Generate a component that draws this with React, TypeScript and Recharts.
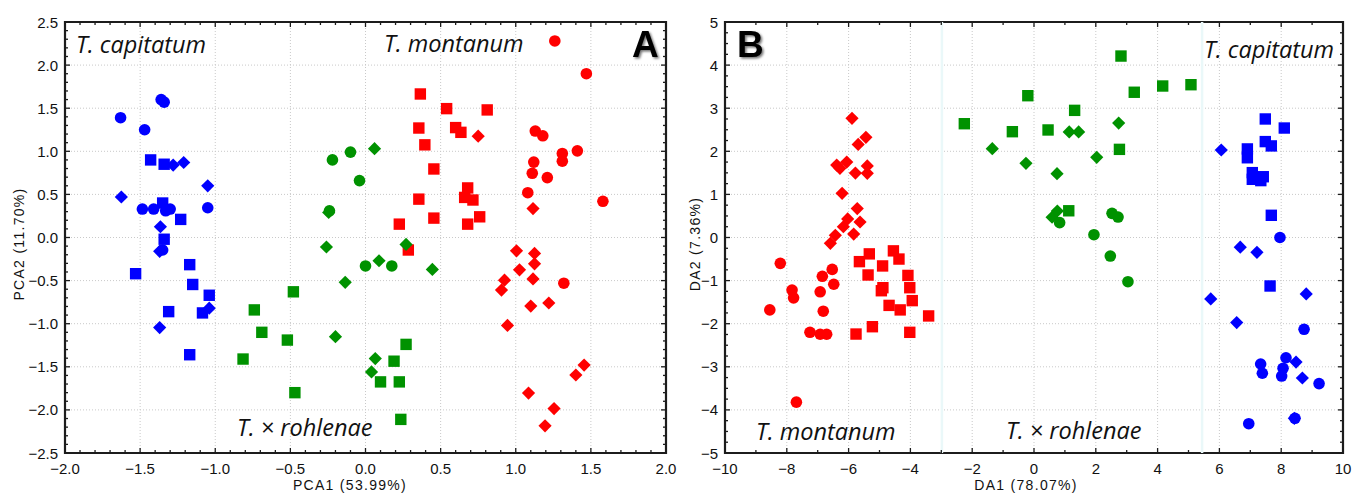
import React from 'react';
import {
  ScatterChart,
  Scatter,
  XAxis,
  YAxis,
  CartesianGrid,
  ReferenceArea,
  ReferenceLine,
} from 'recharts';

type Pt = [number, number];

// ---------- Panel A (PCA) ----------
const redCirclesA: Pt[] = [
  [1.26, 2.28], [1.47, 1.9], [1.13, 1.235], [1.18, 1.18], [1.31, 0.975], [1.41, 1.005],
  [1.12, 0.875], [1.31, 0.885], [1.11, 0.745], [1.21, 0.695], [1.08, 0.52], [1.58, 0.42],
  [1.32, -0.53],
];
const redSquaresA: Pt[] = [
  [0.365, 1.665], [0.54, 1.495], [0.81, 1.48], [0.355, 1.27], [0.6, 1.275], [0.635, 1.22],
  [0.395, 1.075], [0.455, 0.795], [0.68, 0.575], [0.66, 0.465], [0.715, 0.435], [0.355, 0.445],
  [0.455, 0.225], [0.76, 0.24], [0.225, 0.155], [0.68, 0.155], [0.285, -0.145],
];
const redDiamondsA: Pt[] = [
  [0.75, 1.175], [1.115, 0.335], [1.005, -0.155], [1.125, -0.185], [1.125, -0.305], [1.025, -0.375],
  [0.925, -0.495], [1.115, -0.48], [0.905, -0.61], [1.1, -0.795], [1.22, -0.76], [0.945, -1.02],
  [1.455, -1.48], [1.4, -1.595], [1.085, -1.805], [1.255, -1.985], [1.195, -2.185],
];
const greenCirclesA: Pt[] = [
  [-0.22, 0.9], [-0.24, 0.31], [-0.1, 0.99], [-0.04, 0.66], [0.0, -0.33], [0.175, -0.33],
];
const greenDiamondsA: Pt[] = [
  [0.06, 1.03], [-0.245, 0.29], [-0.26, -0.11], [0.27, -0.08], [0.09, -0.27], [0.445, -0.37],
  [-0.135, -0.52], [-0.2, -1.15], [0.065, -1.405], [0.04, -1.56],
];
const greenSquaresA: Pt[] = [
  [-0.48, -0.63], [-0.74, -0.84], [-0.69, -1.1], [-0.52, -1.19], [-0.815, -1.41], [-0.47, -1.8],
  [0.27, -1.24], [0.19, -1.435], [0.1, -1.675], [0.225, -1.675], [0.235, -2.11],
];
const blueCirclesA: Pt[] = [
  [-1.63, 1.39], [-1.36, 1.6], [-1.34, 1.57], [-1.47, 1.25], [-1.485, 0.33], [-1.41, 0.33],
  [-1.33, 0.31], [-1.3, 0.33], [-1.05, 0.345], [-1.35, -0.145],
];
const blueSquaresA: Pt[] = [
  [-1.43, 0.9], [-1.34, 0.85], [-1.35, 0.4], [-1.23, 0.21], [-1.34, -0.02], [-1.53, -0.42],
  [-1.17, -0.315], [-1.15, -0.545], [-1.04, -0.67], [-1.31, -0.86], [-1.085, -0.875], [-1.17, -1.36],
];
const blueDiamondsA: Pt[] = [
  [-1.625, 0.47], [-1.28, 0.84], [-1.21, 0.87], [-1.05, 0.6], [-1.365, 0.125], [-1.37, -0.16],
  [-1.04, -0.82], [-1.37, -1.045],
];

// ---------- Panel B (DA) ----------
const redCirclesB: Pt[] = [
  [-8.21, -0.6], [-6.85, -0.9], [-6.53, -0.74], [-6.48, -1.085], [-7.83, -1.22], [-7.78, -1.4],
  [-6.92, -1.26], [-6.82, -1.71], [-8.55, -1.68], [-7.25, -2.2], [-6.92, -2.245], [-6.71, -2.245],
  [-7.69, -3.82],
];
const redSquaresB: Pt[] = [
  [-5.65, -0.56], [-5.33, -0.38], [-4.55, -0.31], [-4.37, -0.5], [-4.9, -0.66], [-5.37, -0.87],
  [-4.08, -0.88], [-4.94, -1.235], [-4.89, -1.165], [-4.02, -1.165], [-3.94, -1.465], [-4.69, -1.575],
  [-4.33, -1.68], [-3.41, -1.82], [-5.23, -2.07], [-5.76, -2.24], [-4.02, -2.2],
];
const redDiamondsB: Pt[] = [
  [-5.89, 2.765], [-5.44, 2.325], [-5.69, 2.16], [-6.385, 1.68], [-6.28, 1.605], [-6.06, 1.75],
  [-5.78, 1.495], [-5.395, 1.66], [-5.395, 1.49], [-6.21, 1.025], [-5.72, 0.67], [-6.03, 0.43],
  [-5.63, 0.36], [-6.17, 0.25], [-6.43, 0.05], [-5.835, 0.08], [-6.59, -0.135],
];
const greenSquaresB: Pt[] = [
  [-2.255, 2.64], [-0.7, 2.455], [-0.2, 3.29], [2.815, 4.21], [3.245, 3.37], [4.165, 3.515],
  [5.08, 3.545], [1.315, 2.95], [0.455, 2.495], [2.765, 2.045], [1.125, 0.62],
];
const greenDiamondsB: Pt[] = [
  [-1.35, 2.06], [-0.26, 1.72], [1.14, 2.45], [1.445, 2.45], [2.74, 2.655], [2.03, 1.86],
  [0.745, 1.48], [0.585, 0.47], [0.755, 0.615],
];
const greenCirclesB: Pt[] = [
  [0.83, 0.345], [2.525, 0.56], [2.72, 0.475], [1.94, 0.065], [2.47, -0.43], [3.04, -1.025],
];
const blueSquaresB: Pt[] = [
  [7.485, 2.75], [8.1, 2.54], [7.485, 2.225], [7.68, 2.125], [6.905, 2.055], [6.905, 1.85],
  [7.065, 1.505], [7.42, 1.41], [7.065, 1.35], [7.34, 1.32], [7.68, 0.515], [7.64, -1.125],
];
const blueDiamondsB: Pt[] = [
  [6.06, 2.03], [6.675, -0.225], [7.215, -0.345], [5.72, -1.425], [8.81, -1.31], [6.56, -1.975],
  [8.48, -2.89], [8.685, -3.26], [8.425, -4.195],
];
const blueCirclesB: Pt[] = [
  [7.96, 0.0], [8.74, -2.13], [8.155, -2.79], [7.335, -2.935], [7.39, -3.15], [8.06, -3.035],
  [8.015, -3.215], [9.225, -3.39], [6.95, -4.32], [8.445, -4.195],
];

// ---------- Axis ticks / labels ----------
const majorXA = [-2.0, -1.5, -1.0, -0.5, 0.0, 0.5, 1.0, 1.5, 2.0];
const majorYA = [-2.5, -2.0, -1.5, -1.0, -0.5, 0.0, 0.5, 1.0, 1.5, 2.0, 2.5];
const gridXA = [-1.5, -1.0, -0.5, 0.0, 0.5, 1.0, 1.5];
const gridYA = [-2.0, -1.5, -1.0, -0.5, 0.0, 0.5, 1.0, 1.5, 2.0];
const majorXB = [-10, -8, -6, -4, -2, 0, 2, 4, 6, 8, 10];
const majorYB = [-5, -4, -3, -2, -1, 0, 1, 2, 3, 4, 5];
const gridXB = [-8, -6, -4, -2, 0, 2, 4, 6, 8];
const gridYB = [-4, -3, -2, -1, 0, 1, 2, 3, 4];

const titleXA = 'PCA1 (53.99%)';
const titleYA = 'PCA2 (11.70%)';
const titleXB = 'DA1 (78.07%)';
const titleYB = 'DA2 (7.36%)';

const RED = '#ff0000';
const GREEN = '#009200';
const BLUE = '#0000ff';
const INK = '#1c1c1c';
const FONT = '"Liberation Sans", Arial, Helvetica, sans-serif';
const SPECIES_FONT = '"Open Sans", "Noto Sans", sans-serif';

const toObjs = (a: Pt[]) => a.map(([x, y]) => ({ x, y }));

function stepTicks(min: number, max: number, step: number): number[] {
  const n = Math.round((max - min) / step);
  const out: number[] = [];
  for (let i = 0; i <= n; i++) out.push(Math.round((min + i * step) * 1000) / 1000);
  return out;
}

function fmt(v: number, dec: number) {
  const s = Math.abs(v) < 1e-9 ? (0).toFixed(dec) : v.toFixed(dec);
  return s.replace('-', '\u2212');
}

const circleShape = (color: string) => (p: any) => (
  <circle cx={p.cx} cy={p.cy} r={5.8} fill={color} />
);
const squareShape = (color: string) => (p: any) => (
  <rect x={p.cx - 5.7} y={p.cy - 5.7} width={11.4} height={11.4} fill={color} />
);
const diamondShape = (color: string) => (p: any) => {
  const r = 6.6;
  return (
    <path
      d={`M${p.cx},${p.cy - r}L${p.cx + r},${p.cy}L${p.cx},${p.cy + r}L${p.cx - r},${p.cy}Z`}
      fill={color}
    />
  );
};

type Geom = { left: number; right: number; top: number; bottom: number };

function makeXTick(g: Geom, majors: number[], dec: number) {
  return (props: any) => {
    const { x, payload } = props;
    const v = payload.value as number;
    const isMajor = majors.some((m) => Math.abs(m - v) < 1e-6);
    const len = isMajor ? 5 : 3;
    return (
      <g>
        <line x1={x} x2={x} y1={g.bottom} y2={g.bottom - len} stroke={INK} strokeWidth={1.3} />
        <line x1={x} x2={x} y1={g.top} y2={g.top + len} stroke={INK} strokeWidth={1.3} />
        {isMajor && (
          <text x={x} y={g.bottom + 21} textAnchor="middle" fontSize={15} fontFamily={FONT} fill="#111">
            {fmt(v, dec)}
          </text>
        )}
      </g>
    );
  };
}

function makeYTick(g: Geom, majors: number[], dec: number) {
  return (props: any) => {
    const { y, payload } = props;
    const v = payload.value as number;
    const isMajor = majors.some((m) => Math.abs(m - v) < 1e-6);
    const len = isMajor ? 5 : 3;
    return (
      <g>
        <line x1={g.left} x2={g.left + len} y1={y} y2={y} stroke={INK} strokeWidth={1.3} />
        <line x1={g.right} x2={g.right - len} y1={y} y2={y} stroke={INK} strokeWidth={1.3} />
        {isMajor && (
          <text x={g.left - 7} y={y + 5.5} textAnchor="end" fontSize={15} fontFamily={FONT} fill="#111">
            {fmt(v, dec)}
          </text>
        )}
      </g>
    );
  };
}

const geomA: Geom = { left: 65, right: 666, top: 22, bottom: 453 };
const geomB: Geom = { left: 45, right: 663, top: 22, bottom: 453 };

const xTicksA = stepTicks(-2, 2, 0.1);
const yTicksA = stepTicks(-2.5, 2.5, 0.1);
const xTicksB = stepTicks(-10, 10, 1);
const yTicksB = stepTicks(-5, 5, 0.25);

const XTickA = makeXTick(geomA, majorXA, 1);
const YTickA = makeYTick(geomA, majorYA, 1);
const XTickB = makeXTick(geomB, majorXB, 0);
const YTickB = makeYTick(geomB, majorYB, 0);

function PanelA() {
  return (
    <ScatterChart width={680} height={495} margin={{ top: 22, right: 14, bottom: 12, left: 5 }}>
      <CartesianGrid
        stroke="#c9c9c9"
        strokeDasharray="1 2"
        horizontalValues={gridYA}
        verticalValues={gridXA}
      />
      <XAxis
        type="number"
        dataKey="x"
        domain={[-2, 2]}
        ticks={xTicksA}
        interval={0}
        tick={XTickA}
        tickLine={false}
        axisLine={false}
        height={30}
        allowDataOverflow
      />
      <YAxis
        type="number"
        dataKey="y"
        domain={[-2.5, 2.5]}
        ticks={yTicksA}
        interval={0}
        tick={YTickA}
        tickLine={false}
        axisLine={false}
        width={60}
        allowDataOverflow
      />
      <Scatter data={toObjs(redSquaresA)} shape={squareShape(RED)} isAnimationActive={false} />
      <Scatter data={toObjs(redCirclesA)} shape={circleShape(RED)} isAnimationActive={false} />
      <Scatter data={toObjs(redDiamondsA)} shape={diamondShape(RED)} isAnimationActive={false} />
      <Scatter data={toObjs(greenSquaresA)} shape={squareShape(GREEN)} isAnimationActive={false} />
      <Scatter data={toObjs(greenDiamondsA)} shape={diamondShape(GREEN)} isAnimationActive={false} />
      <Scatter data={toObjs(greenCirclesA)} shape={circleShape(GREEN)} isAnimationActive={false} />
      <Scatter data={toObjs(blueDiamondsA)} shape={diamondShape(BLUE)} isAnimationActive={false} />
      <Scatter data={toObjs(blueSquaresA)} shape={squareShape(BLUE)} isAnimationActive={false} />
      <Scatter data={toObjs(blueCirclesA)} shape={circleShape(BLUE)} isAnimationActive={false} />
      <ReferenceArea x1={-2} x2={2} y1={-2.5} y2={2.5} fill="none" stroke={INK} strokeWidth={2.2} />
    </ScatterChart>
  );
}

function PanelB() {
  return (
    <ScatterChart width={685} height={495} margin={{ top: 22, right: 22, bottom: 12, left: 5 }}>
      <CartesianGrid
        stroke="#c9c9c9"
        strokeDasharray="1 2"
        horizontalValues={gridYB}
        verticalValues={gridXB}
      />
      <XAxis
        type="number"
        dataKey="x"
        domain={[-10, 10]}
        ticks={xTicksB}
        interval={0}
        tick={XTickB}
        tickLine={false}
        axisLine={false}
        height={30}
        allowDataOverflow
      />
      <YAxis
        type="number"
        dataKey="y"
        domain={[-5, 5]}
        ticks={yTicksB}
        interval={0}
        tick={YTickB}
        tickLine={false}
        axisLine={false}
        width={40}
        allowDataOverflow
      />
      <ReferenceLine x={-2.98} stroke="#eaf8f9" strokeWidth={2.5} />
      <ReferenceLine x={5.44} stroke="#eaf8f9" strokeWidth={2.5} />
      <Scatter data={toObjs(redSquaresB)} shape={squareShape(RED)} isAnimationActive={false} />
      <Scatter data={toObjs(redCirclesB)} shape={circleShape(RED)} isAnimationActive={false} />
      <Scatter data={toObjs(redDiamondsB)} shape={diamondShape(RED)} isAnimationActive={false} />
      <Scatter data={toObjs(greenSquaresB)} shape={squareShape(GREEN)} isAnimationActive={false} />
      <Scatter data={toObjs(greenDiamondsB)} shape={diamondShape(GREEN)} isAnimationActive={false} />
      <Scatter data={toObjs(greenCirclesB)} shape={circleShape(GREEN)} isAnimationActive={false} />
      <Scatter data={toObjs(blueSquaresB)} shape={squareShape(BLUE)} isAnimationActive={false} />
      <Scatter data={toObjs(blueDiamondsB)} shape={diamondShape(BLUE)} isAnimationActive={false} />
      <Scatter data={toObjs(blueCirclesB)} shape={circleShape(BLUE)} isAnimationActive={false} />
      <ReferenceArea x1={-10} x2={10} y1={-5} y2={5} fill="none" stroke={INK} strokeWidth={2.2} />
    </ScatterChart>
  );
}

function Overlay() {
  const sp = { fontFamily: SPECIES_FONT, fontStyle: 'italic' as const, fontSize: 23.5, fill: '#111' };
  const title = { fontFamily: FONT, fontSize: 14, fill: '#111', letterSpacing: 1.3 };
  const letter = { fontFamily: FONT, fontWeight: 'bold' as const, fontSize: 37, fill: '#000' };
  return (
    <svg
      width={1365}
      height={495}
      style={{ position: 'absolute', left: 0, top: 0, pointerEvents: 'none' }}
    >
      <defs>
        <filter id="shadow" x="-20%" y="-20%" width="160%" height="160%">
          <feDropShadow dx="1.6" dy="1.6" stdDeviation="1.3" floodColor="#000" floodOpacity="0.55" />
        </filter>
      </defs>
      {/* Panel A */}
      <text x={76} y={53} {...sp}>T. capitatum</text>
      <text x={384} y={52} {...sp}>T. montanum</text>
      <text x={237} y={436} {...sp}>T. × rohlenae</text>
      <text x={632} y={57} {...letter} filter="url(#shadow)">A</text>
      <text x={350} y={490} textAnchor="middle" {...title}>{titleXA}</text>
      <text transform="translate(24,244) rotate(-90)" textAnchor="middle" {...title}>{titleYA}</text>
      {/* Panel B */}
      <text x={1204} y={58} {...sp}>T. capitatum</text>
      <text x={756} y={440} {...sp}>T. montanum</text>
      <text x={1006} y={439} {...sp}>T. × rohlenae</text>
      <text x={737} y={57} {...letter} filter="url(#shadow)">B</text>
      <text x={1026} y={490} textAnchor="middle" {...title}>{titleXB}</text>
      <text transform="translate(700,244) rotate(-90)" textAnchor="middle" {...title}>{titleYB}</text>
    </svg>
  );
}

export default function App() {
  return (
    <div style={{ position: 'absolute', left: 0, top: 0, width: 1365, height: 495, background: '#fff' }}>
      <div style={{ position: 'absolute', left: 0, top: 0 }}>
        <PanelA />
      </div>
      <div style={{ position: 'absolute', left: 680, top: 0 }}>
        <PanelB />
      </div>
      <Overlay />
    </div>
  );
}
